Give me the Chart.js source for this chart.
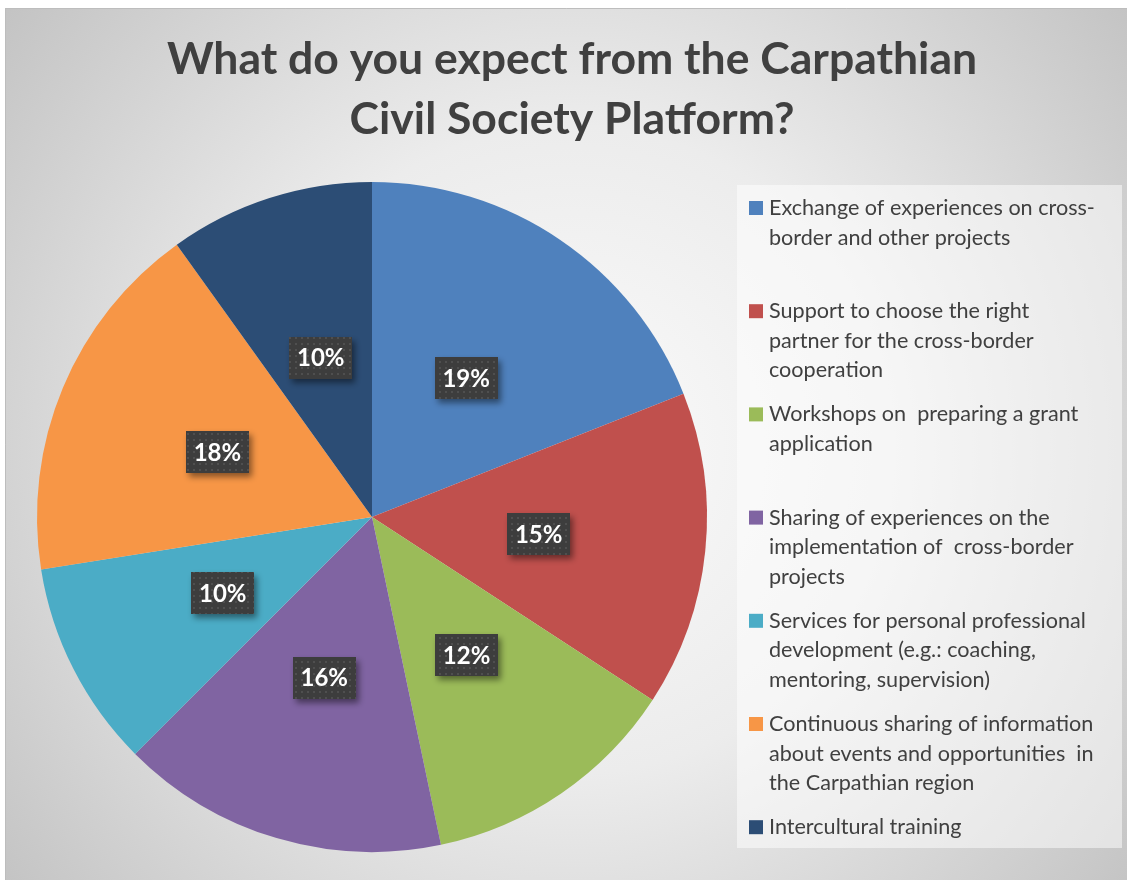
<!DOCTYPE html>
<html>
<head>
<meta charset="utf-8">
<script src="https://cdn.jsdelivr.net/npm/chart.js@4"></script>
<style>
  html, body { margin: 0; padding: 0; background: #fff; }
  #wrap { width: 1127px; height: 880px; position: relative; }
</style>
</head>
<body>
<div id="wrap"><canvas id="pie" width="1127" height="880"></canvas></div>
<script>
// data
const titleLines = ['What do you expect from the Carpathian', 'Civil Society Platform?'];
const categories = [
  ['Exchange of experiences on cross-', 'border and other projects'],
  ['Support to choose the right', 'partner for the cross-border', 'cooperation'],
  ['Workshops on  preparing a grant', 'application'],
  ['Sharing of experiences on the', 'implementation of  cross-border', 'projects'],
  ['Services for personal professional', 'development (e.g.: coaching,', 'mentoring, supervision)'],
  ['Continuous sharing of information', 'about events and opportunities  in', 'the Carpathian region'],
  ['Intercultural training']
];
// slice sizes as measured from the wedge angles, labels as printed
const shares = [19.0, 15.2, 12.5, 15.8, 10.0, 17.6, 9.9];
const valueLabels = ['19%', '15%', '12%', '16%', '10%', '18%', '10%'];
const sliceColors = ['#4F81BD', '#C0504D', '#9BBB59', '#8064A2', '#4BACC6', '#F79646', '#2C4D75'];

const FONT = 'Lato, "Open Sans", sans-serif';

// dotted dark fill for the value boxes
function dotPattern(ctx) {
  const c = document.createElement('canvas');
  c.width = 6; c.height = 6;
  const g = c.getContext('2d');
  g.fillStyle = '#3d3d3d';
  g.fillRect(0, 0, 6, 6);
  g.fillStyle = '#4f4f4f';
  g.fillRect(1, 1, 2, 2);
  return ctx.createPattern(c, 'repeat');
}

const backdrop = {
  id: 'backdrop',
  beforeDraw(chart) {
    const ctx = chart.ctx;
    ctx.save();
    ctx.fillStyle = '#ffffff';
    ctx.fillRect(0, 0, chart.width, chart.height);
    const grad = ctx.createRadialGradient(570, 450, 0, 570, 450, 720);
    grad.addColorStop(0, '#fbfbfb');
    grad.addColorStop(0.45, '#ececec');
    grad.addColorStop(1, '#c3c3c3');
    ctx.fillStyle = grad;
    ctx.fillRect(5, 8, chart.width - 5, chart.height - 8);
    ctx.strokeStyle = '#bdbdbd';
    ctx.lineWidth = 1;
    ctx.beginPath();
    ctx.moveTo(5.5, chart.height);
    ctx.lineTo(5.5, 8.5);
    ctx.lineTo(chart.width, 8.5);
    ctx.stroke();

    // title
    ctx.fillStyle = '#404040';
    ctx.textAlign = 'center';
    ctx.textBaseline = 'alphabetic';
    ctx.font = 'bold 44px ' + FONT;
    const w = ctx.measureText(titleLines[0]).width;
    const size = 44 * 810 / w;
    ctx.font = 'bold ' + size.toFixed(1) + 'px ' + FONT;
    ctx.fillText(titleLines[0], 572, 74);
    ctx.fillText(titleLines[1], 572, 134);

    // legend panel
    ctx.fillStyle = 'rgba(255,255,255,0.5)';
    ctx.fillRect(737, 185, 385, 663);
    ctx.restore();
  },
  afterDraw(chart) {
    const ctx = chart.ctx;
    ctx.save();
    // legend entries
    ctx.font = '21.6px ' + FONT;
    ctx.textAlign = 'left';
    ctx.textBaseline = 'alphabetic';
    categories.forEach((lines, i) => {
      const base = 215 + i * 103.2;
      ctx.fillStyle = sliceColors[i];
      ctx.fillRect(749, base - 14, 14, 14);
      ctx.fillStyle = '#404040';
      lines.forEach((t, j) => ctx.fillText(t, 769, base + j * 29.6));
    });

    // value boxes
    const pat = dotPattern(ctx);
    const meta = chart.getDatasetMeta(0);
    meta.data.forEach((arc, i) => {
      const p = arc.tooltipPosition();
      const bw = 63, bh = 42;
      const x = Math.round(p.x - bw / 2), y = Math.round(p.y - bh / 2);
      ctx.save();
      ctx.shadowColor = 'rgba(0,0,0,0.45)';
      ctx.shadowBlur = 6;
      ctx.shadowOffsetX = 3;
      ctx.shadowOffsetY = 4;
      ctx.fillStyle = pat;
      ctx.fillRect(x, y, bw, bh);
      ctx.restore();
      ctx.fillStyle = '#ffffff';
      ctx.font = 'bold 24px ' + FONT;
      ctx.textAlign = 'center';
      ctx.textBaseline = 'middle';
      ctx.fillText(valueLabels[i], p.x, p.y + 1);
    });
    ctx.restore();
  }
};

new Chart(document.getElementById('pie').getContext('2d'), {
  type: 'pie',
  data: {
    labels: categories.map(l => l.join(' ')),
    datasets: [{
      data: shares,
      backgroundColor: sliceColors,
      borderWidth: 0
    }]
  },
  options: {
    responsive: false,
    animation: false,
    layout: { padding: { top: 182, left: 37, right: 420, bottom: 28 } },
    plugins: {
      legend: { display: false },
      title: { display: false },
      tooltip: { enabled: false }
    }
  },
  plugins: [backdrop]
});
</script>
</body>
</html>
